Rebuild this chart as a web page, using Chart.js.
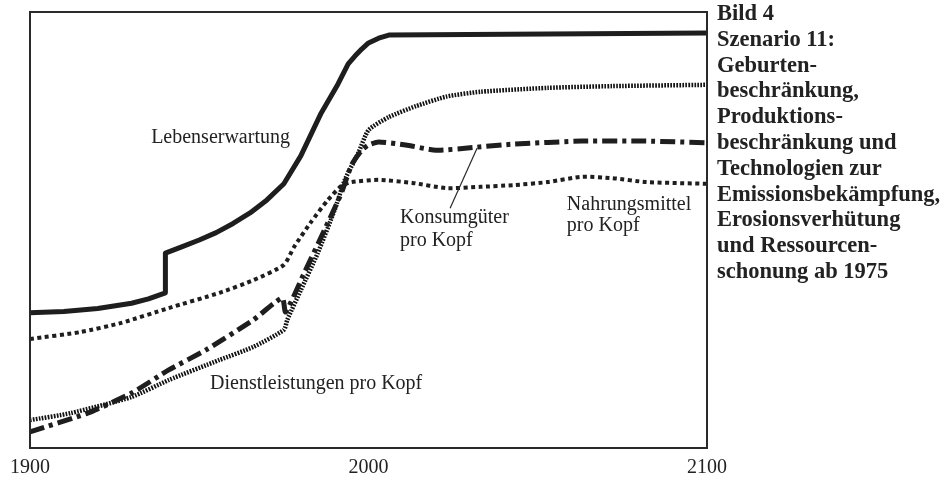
<!DOCTYPE html>
<html>
<head>
<meta charset="utf-8">
<script src="https://cdn.jsdelivr.net/npm/chart.js@4.4.0/dist/chart.umd.min.js"></script>
<style>
  body { margin: 0; background: #fff; }
  #wrap { position: relative; width: 942px; height: 493px; }
  #caption {
    position: absolute; left: 717px; top: 0px;
    font: bold 22.5px 'Liberation Serif', serif; line-height: 25.8px;
    color: #222; white-space: nowrap;
  }
</style>
</head>
<body>
<div id="wrap">
  <canvas id="chart" width="942" height="493"></canvas>
  <div id="caption">Bild 4<br>Szenario 11:<br>Geburten-<br>beschränkung,<br>Produktions-<br>beschränkung und<br>Technologien zur<br>Emissionsbekämpfung,<br>Erosionsverhütung<br>und Ressourcen-<br>schonung ab 1975</div>
</div>
<script>
  const xTicks = [1900, 2000, 2100];

  // Lebenserwartung (solid), step in 1940
  const lifeYears = [1900, 1910, 1920, 1930, 1935, 1940, 1940, 1945, 1950, 1955, 1960, 1965, 1970, 1975, 1980, 1986, 1991, 1994, 1996, 1998, 2000, 2003, 2006, 2100];
  const lifeValues = [31.0, 31.3, 32.0, 33.2, 34.2, 35.6, 44.7, 46.2, 47.7, 49.4, 51.5, 53.9, 56.9, 60.6, 67.0, 76.8, 83.5, 88.1, 89.9, 91.5, 92.9, 94.0, 94.7, 95.2];

  // Nahrungsmittel pro Kopf (coarse dots)
  const foodYears = [1900, 1915, 1927, 1941, 1956, 1966, 1975, 1978, 1983, 1988, 1992, 1995, 2003, 2013, 2023, 2033, 2043, 2053, 2063, 2072, 2082, 2100];
  const foodValues = [25.0, 26.6, 28.7, 32.1, 35.6, 38.5, 42.0, 46.1, 51.8, 56.9, 60.1, 61.0, 61.5, 60.8, 59.6, 59.9, 60.3, 61.0, 62.2, 61.9, 61.0, 60.6];

  // Konsumgüter pro Kopf (dash-dot)
  const goodsYears = [1900, 1917, 1930, 1941, 1952, 1966, 1974.5, 1975.5, 1981, 1987, 1992, 1995, 1998, 2000, 2003, 2011, 2020, 2032, 2043, 2063, 2082, 2100];
  const goodsValues = [3.7, 8.0, 12.6, 17.9, 22.5, 29.4, 34.4, 31.2, 40.1, 50.0, 58.5, 64.9, 68.3, 69.5, 70.2, 69.5, 68.3, 69.0, 69.7, 70.4, 70.4, 70.0];

  // Dienstleistungen pro Kopf (fine dots)
  const servicesYears = [1900, 1912, 1930, 1941, 1956, 1966, 1975, 1976, 1980, 1985, 1990, 1993, 1997, 2000, 2006, 2014, 2023, 2033, 2053, 2072, 2100];
  const servicesValues = [6.4, 8.0, 11.7, 15.6, 20.2, 23.2, 27.1, 29.4, 36.2, 44.7, 54.6, 61.5, 67.7, 72.9, 75.9, 78.4, 80.6, 81.7, 82.6, 83.0, 83.3];

  const toPoints = (xs, ys) => xs.map((x, i) => ({ x: x, y: ys[i] }));

  // labels inside the plot, placed in data coordinates
  const notes = [
    { text: 'Lebenserwartung', x: 1976.8, y: 71.1, align: 'right' },
    { text: 'Konsumgüter', x: 2009.3, y: 52.8, align: 'left' },
    { text: 'pro Kopf', x: 2009.3, y: 47.6, align: 'left' },
    { text: 'Nahrungsmittel', x: 2058.6, y: 55.7, align: 'left' },
    { text: 'pro Kopf', x: 2058.6, y: 51.0, align: 'left' },
    { text: 'Dienstleistungen pro Kopf', x: 1953.2, y: 14.7, align: 'left' }
  ];
  const pointer = [{ x: 2032.1, y: 68.8 }, { x: 2024.1, y: 55.0 }];

  const ink = '#1e1e1e';

  const framePlugin = {
    id: 'frame',
    afterDatasetsDraw(chart) {
      const { ctx, chartArea: a, scales } = chart;
      ctx.save();
      ctx.strokeStyle = '#2a2a2a';
      ctx.lineWidth = 2;
      ctx.strokeRect(a.left, a.top, a.right - a.left, a.bottom - a.top);

      ctx.fillStyle = '#222';
      ctx.font = '20px "Liberation Serif", serif';
      ctx.textBaseline = 'middle';
      notes.forEach(n => {
        ctx.textAlign = n.align;
        ctx.fillText(n.text, scales.x.getPixelForValue(n.x), scales.y.getPixelForValue(n.y));
      });

      ctx.lineWidth = 1.2;
      ctx.beginPath();
      ctx.moveTo(scales.x.getPixelForValue(pointer[0].x), scales.y.getPixelForValue(pointer[0].y));
      ctx.lineTo(scales.x.getPixelForValue(pointer[1].x), scales.y.getPixelForValue(pointer[1].y));
      ctx.stroke();
      ctx.restore();
    }
  };

  new Chart(document.getElementById('chart'), {
    type: 'line',
    data: {
      datasets: [
        {
          label: 'Lebenserwartung',
          data: toPoints(lifeYears, lifeValues),
          borderColor: ink, borderWidth: 5, tension: 0,
          borderJoinStyle: 'round'
        },
        {
          label: 'Nahrungsmittel pro Kopf',
          data: toPoints(foodYears, foodValues),
          borderColor: ink, borderWidth: 4, tension: 0.2,
          borderDash: [4, 3.5]
        },
        {
          label: 'Konsumgüter pro Kopf',
          data: toPoints(goodsYears, goodsValues),
          borderColor: ink, borderWidth: 5, tension: 0.2,
          borderDash: [15, 5, 4, 5]
        },
        {
          label: 'Dienstleistungen pro Kopf',
          data: toPoints(servicesYears, servicesValues),
          borderColor: '#111', borderWidth: 4.5, tension: 0.2,
          borderDash: [1.7, 1.3]
        }
      ]
    },
    options: {
      responsive: false,
      animation: false,
      devicePixelRatio: 1,
      layout: { padding: { top: 12, right: 235, left: 0, bottom: 0 } },
      elements: { point: { radius: 0 } },
      plugins: { legend: { display: false }, tooltip: { enabled: false } },
      scales: {
        x: {
          type: 'linear', min: 1900, max: 2100,
          grid: { display: false, drawTicks: false },
          border: { display: false },
          afterBuildTicks: scale => { scale.ticks = xTicks.map(v => ({ value: v })); },
          afterFit: scale => { scale.height = 45; },
          ticks: {
            padding: 8, maxRotation: 0, autoSkip: false,
            color: '#222',
            font: { family: "'Liberation Serif', serif", size: 20 },
            callback: v => String(v)
          }
        },
        y: {
          min: 0, max: 100,
          grid: { display: false, drawTicks: false },
          border: { display: false },
          afterFit: scale => { scale.width = 30; },
          ticks: { display: false }
        }
      }
    },
    plugins: [framePlugin]
  });
</script>
</body>
</html>
